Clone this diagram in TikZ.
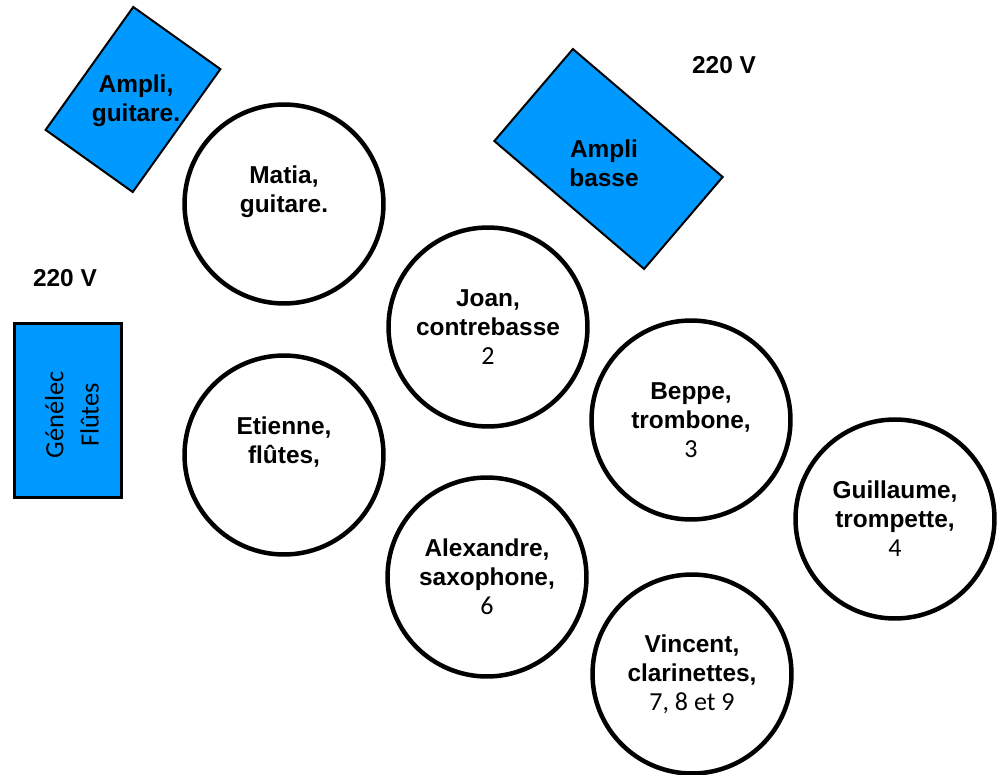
\documentclass[tikz,border=0pt]{standalone}
\usepackage{fontspec}
\setmainfont{Liberation Sans}
\newfontfamily\calibfont{Carlito}
\usetikzlibrary{positioning}

\definecolor{amplblue}{RGB}{0,153,255}
\newcommand{\plnum}[1]{{\calibfont\mdseries\fontsize{14.8}{16.5}\selectfont #1}}

\begin{document}
\begin{tikzpicture}[x=0.02cm,y=-0.02cm]

\tikzset{musician/.style = {shape=circle,draw,line width=0.09cm,minimum size=3.98cm,align=center,font=\fontsize{13.9}{16.5}\selectfont\bfseries}}
\tikzset{ampbox/.style = {shape=rectangle,draw,fill=amplblue,line width=0.04cm}}
\tikzset{ampname/.style = {align=center,font=\fontsize{13.9}{16.5}\selectfont\bfseries}}
\useasboundingbox (0,0) rectangle (997,774);
% amplifiers
\node[ampbox, rotate=-35.5, minimum width=2.14cm, minimum height=3.02cm] (ampg) at (133,99.5) {};
\node[ampname] (ampgtext) at (136,101) {Ampli,\\guitare.};
\node[ampbox, rotate=-40.5, minimum width=3.94cm, minimum height=2.42cm] (ampb) at (608.5,159) {};
\node[ampname] (ampbtext) at (604,163) {Ampli\\basse};
\node[ampbox, line width=0.06cm, minimum width=2.16cm, minimum height=3.5cm] (genelec) at (68,410.5) {};
\node[rotate=90, align=center, inner sep=0pt, font=\calibfont\fontsize{15}{20}\selectfont] (genelectext) at (72,415) {Génélec\\Flûtes};
% power
\node[ampname] (powl) at (65,278) {220 V};
\node[ampname] (powr) at (724,65) {220 V};
% players
\node[musician] (matia) at (284,204) {Matia,\\guitare.\\\mbox{}};
\node[musician] (etienne) at (284,455) {Etienne,\\flûtes,\\\mbox{}};
\node[musician] (joan) at (488,327) {Joan,\\contrebasse\\\plnum{2}};
\node[musician] (alexandre) at (487,577) {Alexandre,\\saxophone,\\\plnum{6}};
\node[musician] (beppe) at (691,420) {Beppe,\\trombone,\\\plnum{3}};
\node[musician] (guillaume) at (895,519) {Guillaume,\\trompette,\\\plnum{4}};
\node[musician] (vincent) at (692,674) {Vincent,\\clarinettes,\\\plnum{7, 8 et 9}};
\end{tikzpicture}
\end{document}
